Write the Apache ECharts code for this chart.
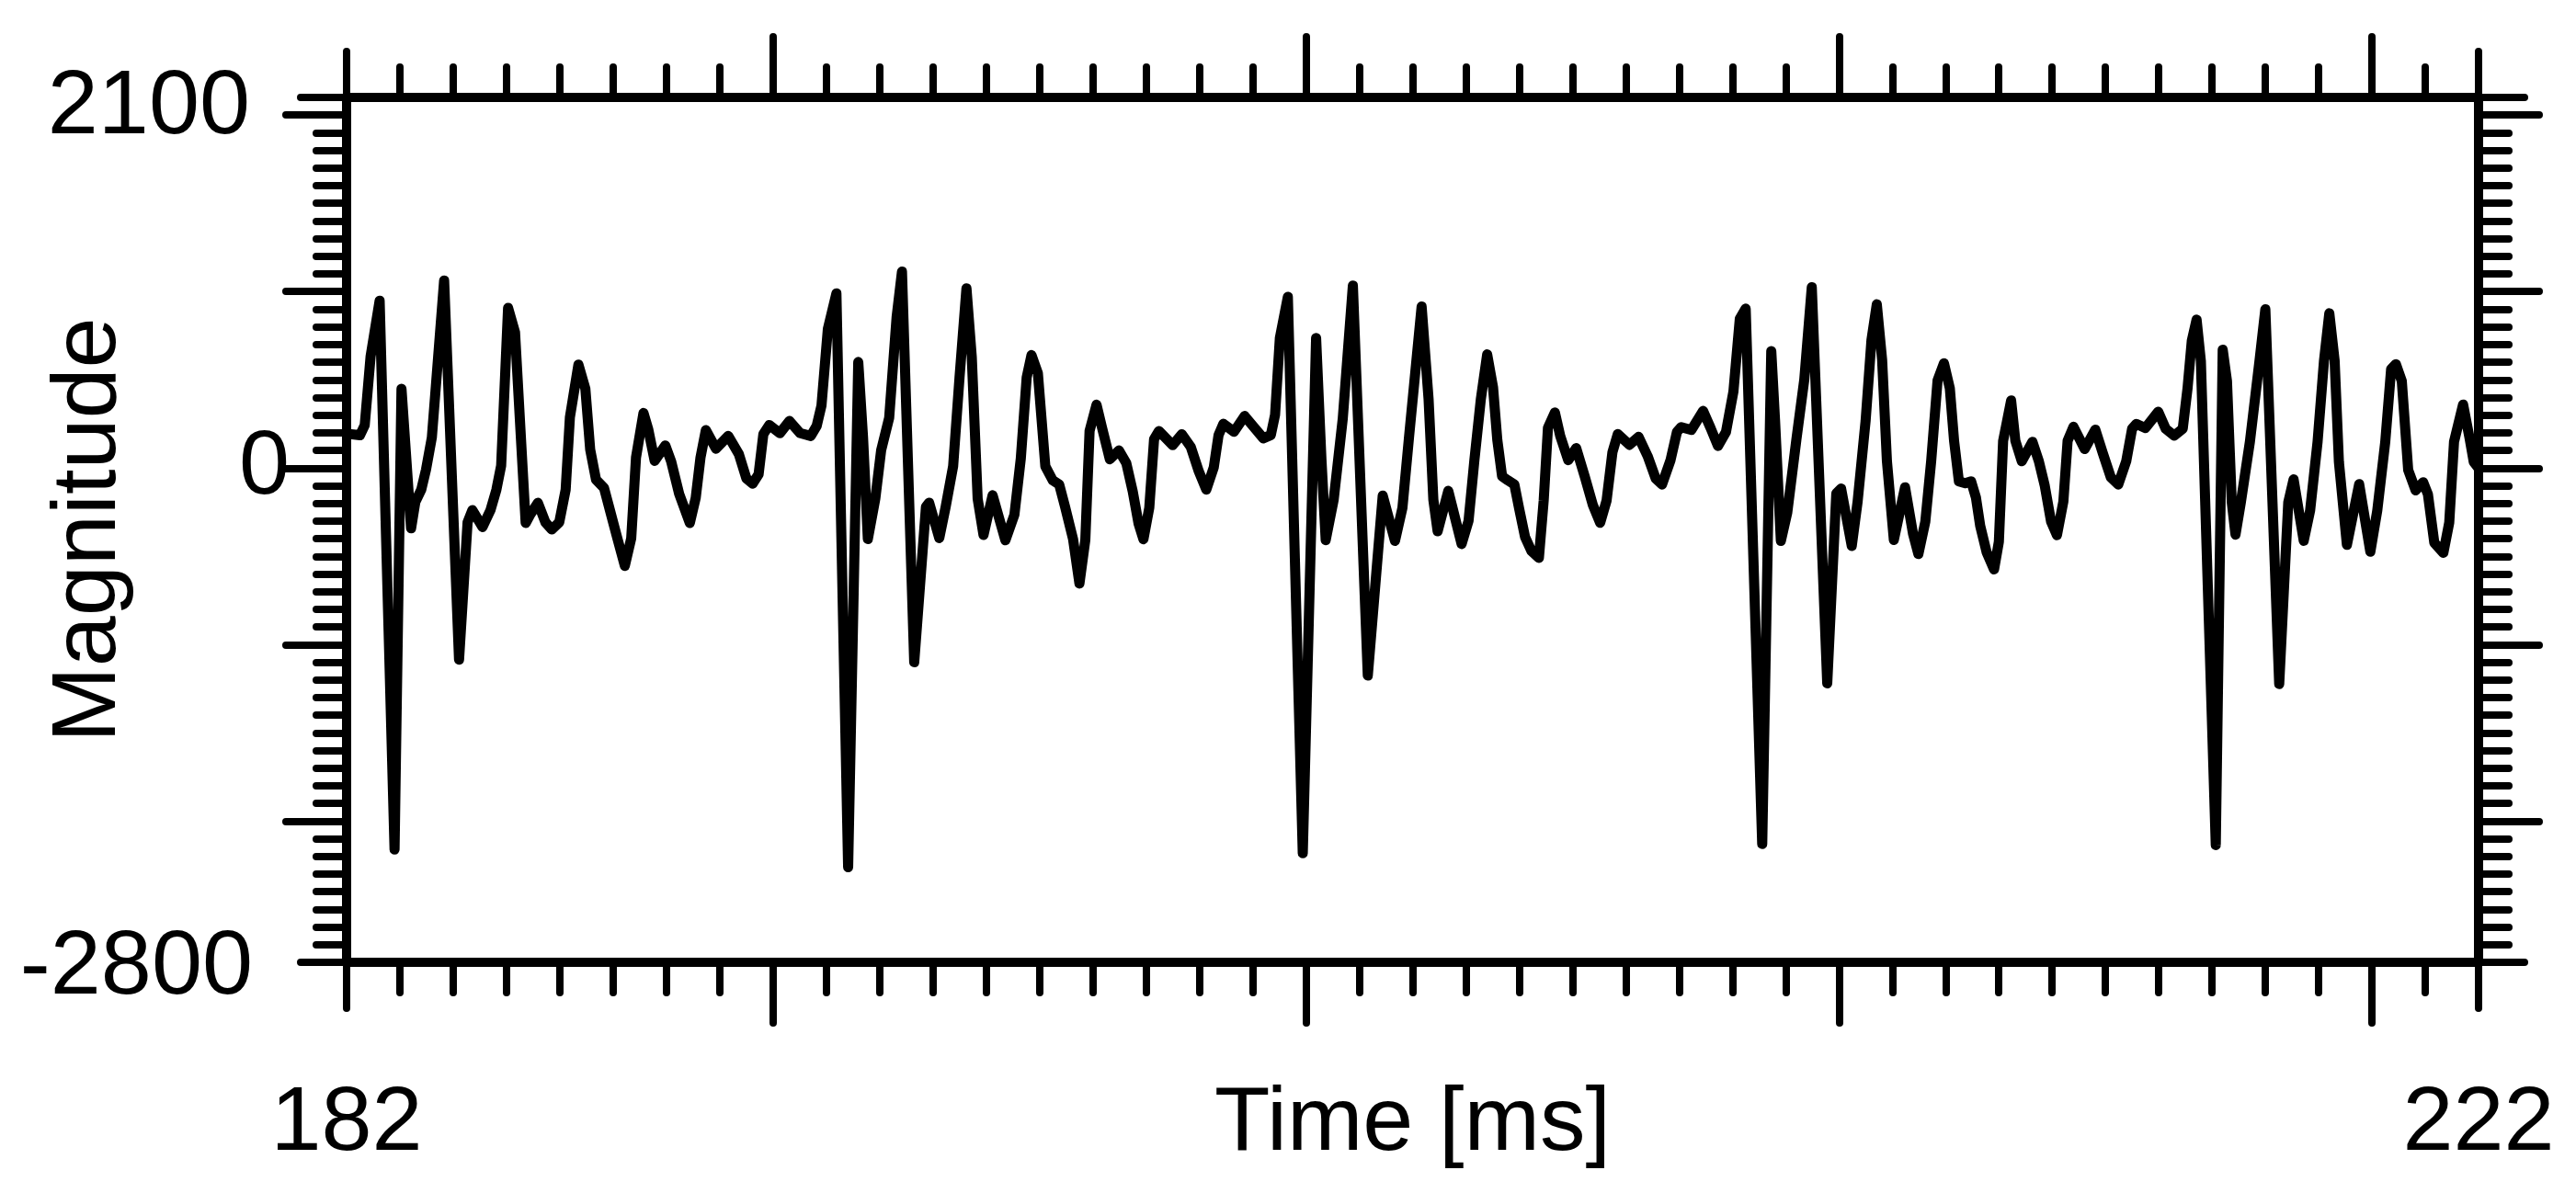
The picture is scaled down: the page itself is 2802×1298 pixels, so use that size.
<!DOCTYPE html>
<html>
<head>
<meta charset="utf-8">
<script src="https://cdn.jsdelivr.net/npm/echarts@6/dist/echarts.min.js"></script>
<style>
  html, body { margin: 0; padding: 0; background: #fff; }
  #chart { width: 2802px; height: 1298px; }
</style>
</head>
<body>
<div id="chart"></div>
<script>
// ---- data ----
const timeMs = [
  182.00, 182.25, 182.34, 182.45, 182.62, 182.90, 183.03, 183.21, 183.29, 183.40,
  183.49, 183.60, 183.83, 184.11, 184.27, 184.36, 184.55, 184.70, 184.81, 184.90,
  185.03, 185.16, 185.27, 185.36, 185.45, 185.59, 185.73, 185.85, 185.99, 186.11,
  186.19, 186.35, 186.48, 186.57, 186.68, 186.83, 186.94, 187.08, 187.22, 187.34,
  187.43, 187.57, 187.66, 187.78, 187.98, 188.09, 188.24, 188.44, 188.55, 188.64,
  188.74, 188.93, 189.16, 189.36, 189.50, 189.62, 189.73, 189.82, 189.93, 190.13,
  190.31, 190.51, 190.71, 190.82, 190.91, 191.03, 191.19, 191.41, 191.60, 191.69,
  191.78, 191.92, 192.03, 192.18, 192.32, 192.42, 192.65, 192.87, 192.93, 193.12,
  193.24, 193.38, 193.50, 193.63, 193.73, 193.84, 193.95, 194.12, 194.36, 194.53,
  194.65, 194.76, 194.85, 194.97, 195.11, 195.25, 195.37, 195.48, 195.63, 195.75,
  195.86, 195.94, 196.07, 196.17, 196.32, 196.49, 196.63, 196.75, 196.86, 196.95,
  197.06, 197.15, 197.24, 197.50, 197.67, 197.84, 197.99, 198.13, 198.27, 198.36,
  198.45, 198.65, 198.85, 199.02, 199.20, 199.34, 199.42, 199.51, 199.66, 199.94,
  200.19, 200.29, 200.37, 200.52, 200.69, 200.88, 201.16, 201.44, 201.67, 201.81,
  201.93, 202.17, 202.30, 202.39, 202.47, 202.67, 202.92, 203.05, 203.16, 203.28,
  203.40, 203.51, 203.59, 203.68, 203.79, 203.91, 204.00, 204.11, 204.23, 204.37,
  204.46, 204.54, 204.67, 204.77, 204.92, 205.07, 205.23, 205.38, 205.52, 205.64,
  205.75, 205.85, 206.07, 206.24, 206.41, 206.56, 206.68, 206.84, 206.96, 207.04,
  207.23, 207.45, 207.59, 207.73, 207.88, 208.02, 208.14, 208.25, 208.56, 208.73,
  208.80, 208.91, 209.03, 209.20, 209.35, 209.49, 209.78, 209.95, 210.04, 210.24,
  210.35, 210.50, 210.61, 210.71, 210.81, 210.90, 211.03, 211.24, 211.39, 211.49,
  211.62, 211.73, 211.85, 211.97, 212.08, 212.16, 212.25, 212.37, 212.48, 212.57,
  212.65, 212.77, 212.91, 213.00, 213.08, 213.23, 213.31, 213.43, 213.63, 213.75,
  213.86, 213.98, 214.09, 214.21, 214.29, 214.40, 214.61, 214.81, 214.95, 215.10,
  215.24, 215.39, 215.50, 215.58, 215.75, 215.99, 216.13, 216.29, 216.45, 216.54,
  216.62, 216.71, 216.79, 217.07, 217.20, 217.28, 217.37, 217.44, 217.54, 217.71,
  217.89, 218.00, 218.26, 218.43, 218.53, 218.72, 218.84, 218.98, 219.10, 219.20,
  219.30, 219.38, 219.53, 219.76, 219.97, 220.10, 220.25, 220.36, 220.45, 220.56,
  220.68, 220.82, 220.96, 221.05, 221.17, 221.34, 221.45, 221.54, 221.71, 221.83,
  221.91, 222.00
];
const magnitude = [
   195,   186,   243,   632,   948, -2161,   449,  -341,  -192,  -123,
    -9,   174,  1063, -1085,  -307,  -238,  -334,  -238,  -123,    14,
   907,   770,   174,  -311,  -261,  -197,  -307,  -348,  -307,  -123,
   289,   586,   449,   106,   -66,  -112,  -238,  -398,  -554,  -398,
    60,   312,   220,    41,   128,    37,  -146,  -311,  -169,    60,
   215,   110,   182,    79,   -58,   -88,   -35,   193,   244,   198,
   267,   198,   182,   239,   354,   789,   990, -2261,   601,   171,
  -402,  -173,   102,   285,   857,  1113, -1100,  -219,  -196,  -397,
  -219,    10,   514,  1018,   628,  -173,  -379,  -154,  -409,  -264,
    56,   514,   640,   537,    10,   -70,   -93,  -219,  -402,  -654,
  -408,   210,   359,   233,    50,   100,    27,  -133,  -316,  -403,
  -225,   164,   210,   130,   192,   119,   -19,  -122,     4,   187,
   251,   206,   295,   233,   169,   187,   302,   737,   970, -2182,
   737,    50,  -408,  -179,   279,  1034, -1175,  -156,  -413,  -225,
   164,   915,   393,  -179,  -358,  -129,  -430,  -299,    45,   388,
   644,   457,   159,   -47,   -70,   -93,  -230,  -390,  -470,  -509,
  -184,   228,   315,   182,    45,   113,   -47,  -207,  -310,  -184,
    90,   193,   132,   177,    68,   -58,   -93,    45,   205,   232,
   216,   324,   228,   125,   205,   434,   846,   903, -2130,   663,
   274,  -413,  -253,   159,   503,  1025, -1220,  -144,  -116,  -441,
  -190,   268,   726,   928,   612,    39,  -407,  -109,  -373,  -487,
  -304,    39,   497,   594,   452,   154,   -75,   -86,   -75,  -167,
  -327,  -476,  -574,  -418,   154,   383,   154,    39,   149,    39,
   -98,  -304,  -380,  -190,   154,   234,   108,   218,    85,   -52,
   -93,    39,   223,   250,   227,   319,   223,   184,   223,   452,
   722,   841,   607, -2136,   671,   493,  -194,  -377,  -194,   149,
   607,   900, -1224,  -194,   -64,  -412,  -240,   149,   607,   877,
   607,    35,  -435,   -91,  -474,  -240,   149,   561,   589,   493,
   -11,  -126,   -80,  -148,  -423,  -480,  -309,   149,   360,   172,
    35,     0
];
const xMin = 182, xMax = 222;
const yMin = -2800, yMax = 2100;
const xTickLabels = [182, 222];
const yTickLabels = [2100, 0, -2800];
const xMajorTicks = [190, 200, 210, 220];
const yMajorTicks = [-2000, -1000, 0, 1000, 2000];
const xEndTicks = [182, 222];
const yEndTicks = [-2800, 2100];
const xTitle = 'Time [ms]';
const yTitle = 'Magnitude';

// minor tick positions: every 1 ms and every 100 units
const xMinorTicks = [];
for (let t = xMin + 1; t < xMax; t++) if (xMajorTicks.indexOf(t) < 0) xMinorTicks.push(t);
const yMinorTicks = [];
for (let v = yMin + 100; v < yMax; v += 100) if (yMajorTicks.indexOf(v) < 0) yMinorTicks.push(v);

const seriesData = timeMs.map((t, i) => [t, magnitude[i]]);

// ---- styling ----
const FONT = '"Liberation Sans", Arial, Helvetica, sans-serif';
const INK = '#000';
const TICK_W = 8, LINE_W = 10;
const LEN_MINOR = 33, LEN_MAJOR = 66, LEN_END = 50;
const FS = 99;

function tickAxis(dim, position, values, len, extra) {
  const base = {
    type: 'value',
    position: position,
    min: dim === 'x' ? xMin : yMin,
    max: dim === 'x' ? xMax : yMax,
    axisLine: { show: false, onZero: false },
    splitLine: { show: false },
    axisLabel: { show: false },
    axisTick: {
      show: true, inside: false, length: len, customValues: values,
      lineStyle: { color: INK, width: TICK_W, cap: 'round' }
    }
  };
  return Object.assign(base, extra || {});
}

const frameLine = { show: true, onZero: false, lineStyle: { color: INK, width: LINE_W } };
const txt = { color: INK, fontFamily: FONT, fontSize: FS };

const xAxes = [
  tickAxis('x', 'bottom', xMinorTicks, LEN_MINOR, {
    axisLine: frameLine,
    axisLabel: Object.assign({ show: true, customValues: xTickLabels, margin: 127,
      showMinLabel: true, showMaxLabel: true, hideOverlap: false,
      formatter: v => String(v) }, txt),
    name: xTitle, nameLocation: 'middle', nameGap: 127, nameMoveOverlap: false,
    nameTextStyle: txt
  }),
  tickAxis('x', 'bottom', xMajorTicks, LEN_MAJOR),
  tickAxis('x', 'bottom', xEndTicks, LEN_END),
  tickAxis('x', 'top', xMinorTicks, LEN_MINOR, { axisLine: frameLine }),
  tickAxis('x', 'top', xMajorTicks, LEN_MAJOR),
  tickAxis('x', 'top', xEndTicks, LEN_END)
];
const yAxes = [
  tickAxis('y', 'left', yMinorTicks, LEN_MINOR, {
    axisLine: frameLine,
    axisLabel: Object.assign({ show: true, customValues: yTickLabels, margin: 62,
      showMinLabel: true, showMaxLabel: true, hideOverlap: false,
      formatter: v => v === 0 ? '{z|0}' : (v > 0 ? '{t|' + v + '}' : '{b|' + v + '}'),
      rich: {
        z: Object.assign({}, txt),
        t: Object.assign({ padding: [24, 43, 0, 0] }, txt),
        b: Object.assign({ padding: [14, 40, 0, 0] }, txt)
      } }, txt),
    name: yTitle, nameLocation: 'middle', nameGap: 230, nameRotate: 90, nameMoveOverlap: false,
    nameTextStyle: txt
  }),
  tickAxis('y', 'left', yMajorTicks, LEN_MAJOR),
  tickAxis('y', 'left', yEndTicks, LEN_END),
  tickAxis('y', 'right', yMinorTicks, LEN_MINOR, { axisLine: frameLine }),
  tickAxis('y', 'right', yMajorTicks, LEN_MAJOR),
  tickAxis('y', 'right', yEndTicks, LEN_END)
];

const chart = echarts.init(document.getElementById('chart'), null, { renderer: 'canvas' });
chart.setOption({
  animation: false,
  backgroundColor: '#fff',
  grid: { left: 377, right: 106, top: 106, bottom: 251, containLabel: false, outerBoundsMode: 'none' },
  xAxis: xAxes,
  yAxis: yAxes,
  series: [{
    type: 'line',
    xAxisIndex: 0,
    yAxisIndex: 0,
    data: seriesData,
    showSymbol: false,
    symbol: 'none',
    clip: true,
    lineStyle: { color: INK, width: 11, join: 'round', cap: 'round' }
  }]
});
</script>
</body>
</html>
